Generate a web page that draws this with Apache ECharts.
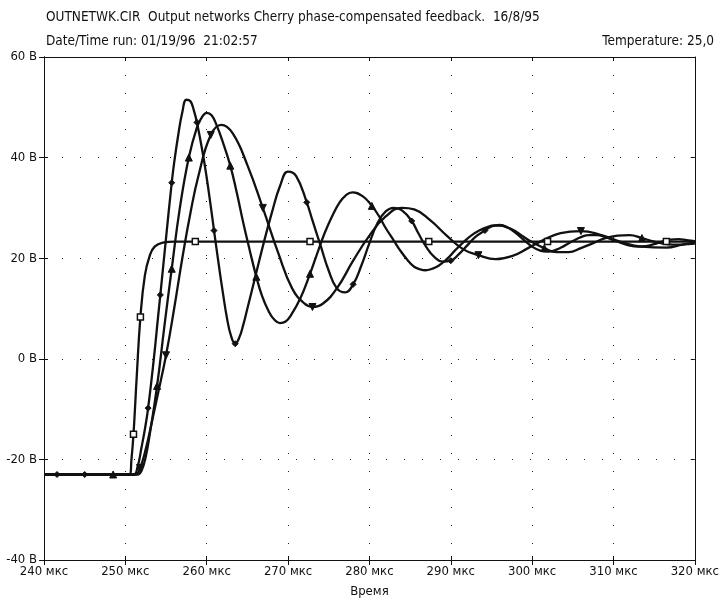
<!DOCTYPE html>
<html><head><meta charset="utf-8">
<script src="https://cdn.jsdelivr.net/npm/echarts/dist/echarts.min.js"></script>
</head><body style="margin:0;background:#fff">
<div id="c" style="width:722px;height:603px"></div>
<script>
// ---- data ----
const xTicks = [240, 250, 260, 270, 280, 290, 300, 310, 320];
const yTicks = [-40, -20, 0, 20, 40, 60];

// square-marker trace
const tS = [240, 250.5, 250.75, 251.0, 251.4, 251.85, 252.4, 253.0, 253.6, 254.6, 256, 258.6, 272.7, 287.3, 301.9, 316.5, 320];
const vS = [-23, -23, -20, -15, -3.5, 8.3, 16.6, 20.5, 22.3, 23.1, 23.3, 23.3, 23.3, 23.3, 23.3, 23.3, 23.3];
const mkS = [251.0, 251.85, 258.6, 272.7, 287.3, 301.9, 316.5];

// diamond-marker trace
const tA = [240, 241.6, 245, 248.5, 251, 251.5, 252, 252.4, 252.8, 253.5, 254, 254.3, 255, 255.7, 256, 256.5, 257, 257.5, 258, 258.4, 258.8, 259.5, 260, 260.5, 260.9, 261.5, 262, 262.5, 263, 263.5, 264, 264.5, 265, 266, 267, 268, 269, 270, 271, 272.3, 273, 274, 275, 276, 277, 278, 279, 280, 281, 282, 283, 284, 285.2, 286, 287, 288, 289, 290, 291, 292, 293, 294.2, 295, 296, 297, 298, 299, 300, 301, 302, 303, 304, 305, 306, 307, 308, 309, 310, 311, 312, 313, 314, 315, 316, 317, 318, 319, 320];
const vA = [-23, -23, -23, -23, -23, -21.5, -17.5, -14, -9.8, 0, 8, 12.7, 24, 35, 39, 44.5, 49, 51.5, 51.2, 49.5, 47, 41, 36, 30.3, 25.5, 18.5, 13, 8, 4.5, 3.0, 4.2, 6.8, 10, 16.5, 23, 29, 34.3, 37.2, 36.3, 31.1, 27.5, 22.5, 17.5, 14, 13.2, 14.8, 18.5, 23, 27, 29.3, 30, 29.5, 27.4, 25, 22.2, 20.2, 19.3, 19.5, 20.8, 22.5, 24.2, 25.5, 26.3, 26.6, 26.1, 25, 23.6, 22.3, 21.5, 21.3, 21.7, 22.5, 23.4, 24.2, 24.6, 24.6, 24.2, 23.6, 23, 22.5, 22.3, 22.4, 22.8, 23.3, 23.7, 23.8, 23.6, 23.4];
const mkA = [241.6, 245, 252.8, 254.3, 255.7, 258.8, 260.9, 263.5, 272.3, 278, 285.2, 290, 294.2];

// triangle-up trace
const tB = [240, 248.5, 251.5, 252.0, 252.5, 253.0, 253.9, 254.8, 255.7, 256.7, 257.8, 258.8, 259.4, 260.0, 260.6, 261.2, 262.0, 262.9, 263.7, 264.5, 265.3, 266.1, 266.8, 267.6, 268.3, 269.0, 269.7, 270.3, 271.5, 272.7, 273.6, 274.5, 275.4, 276.3, 277.1, 277.9, 279.2, 280.3, 281.2, 282.0, 283.0, 283.8, 284.7, 285.5, 286.2, 286.9, 287.7, 288.5, 289.5, 290.5, 291.5, 292.5, 293.5, 294.5, 295.3, 296.0, 297.0, 298.0, 299.0, 300.0, 301.5, 303.0, 304.5, 306.0, 307.5, 309.0, 310.5, 312.0, 313.5, 315.0, 316.5, 318.0, 319.0, 320];
const vB = [-23, -23, -23, -22.2, -19.5, -15, -5.4, 6.5, 17.9, 30, 40, 46, 48, 48.9, 48.4, 46.5, 43, 38.4, 33, 27, 21.5, 16.3, 12.5, 9.5, 7.8, 7.1, 7.4, 8.5, 12, 16.9, 21, 25, 28.3, 31, 32.5, 33.1, 32.3, 30.4, 28.3, 26, 23.5, 21.5, 19.6, 18.3, 17.8, 17.6, 17.9, 18.5, 19.8, 21.5, 23.1, 24.5, 25.5, 26.2, 26.5, 26.5, 26.1, 25.3, 24.2, 23.2, 22, 21.2, 21.2, 22, 23, 24, 24.5, 24.6, 24, 23.3, 22.8, 22.7, 22.8, 22.9];
const mkB = [248.5, 253.9, 255.7, 257.8, 262.9, 266.1, 272.7, 280.3, 301.5, 313.5];

// triangle-down trace
const tC = [240, 251.2, 251.8, 252.5, 253.2, 254.0, 255.0, 256.0, 257.0, 258.0, 259.0, 260.5, 261.8, 263.2, 265.0, 266.9, 268.8, 270.5, 272.0, 273.0, 274.3, 276.0, 278.0, 280.0, 282.0, 284.0, 285.5, 287.5, 289.5, 291.5, 293.4, 295.5, 297.5, 299.5, 301.5, 303.5, 306.0, 308.5, 311.0, 313.5, 316.5, 318.5, 320];
const vC = [-23, -23, -21.7, -18, -13, -7, 0.7, 10, 20, 29, 36.5, 44.5, 46.5, 44.8, 38.5, 30, 21, 14, 11, 10.3, 11, 14, 19.5, 24.5, 28.3, 30, 29.7, 27.5, 24.5, 21.8, 20.6, 19.8, 20.4, 22, 23.7, 25, 25.4, 24.6, 23.2, 22.3, 22.1, 22.7, 23.1];
const mkC = [251.8, 255.0, 260.5, 266.9, 273.0, 293.4, 306.0];

const titleText = 'OUTNETWK.CIR  Output networks Cherry phase-compensated feedback.  16/8/95';
const runText = 'Date/Time run: 01/19/96  21:02:57';
const tempText = 'Temperature: 25,0';
const xName = 'Время';

// ---- build ----
const F = '"Liberation Sans Narrow", "DejaVu Sans Condensed", "Liberation Sans", sans-serif';
function build(ts, vs, mk, sym) {
  return ts.map((t, i) => ({ value: [t, vs[i]], symbol: mk.indexOf(t) >= 0 ? sym : 'none' }));
}
function ser(ts, vs, mk, sym, opts) {
  return Object.assign({
    type: 'line', data: build(ts, vs, mk, sym), smooth: 0.45,
    showSymbol: true, symbolSize: 7,
    lineStyle: { color: '#111', width: 2.3 },
    itemStyle: { color: '#111', borderColor: '#111', borderWidth: 1 },
    z: 3
  }, opts || {});
}
const chart = echarts.init(document.getElementById('c'), null, { renderer: 'canvas' });
const dotted = { color: '#222', width: 1, type: [1, 17] };
const tStyle = { fontSize: 13.5, fontWeight: 'normal', color: '#111', fontFamily: F };
const axLine = { show: true, onZero: false, lineStyle: { color: '#111', width: 1 } };
const xRange = { type: 'value', min: xTicks[0], max: xTicks[xTicks.length - 1], interval: xTicks[1] - xTicks[0] };
const yRange = { type: 'value', min: yTicks[0], max: yTicks[yTicks.length - 1], interval: yTicks[1] - yTicks[0] };
chart.setOption({
  animation: false,
  backgroundColor: '#fff',
  textStyle: { fontFamily: F },
  title: [
    { text: titleText, left: 46, top: 10, padding: 0, textStyle: tStyle },
    { text: runText, left: 46, top: 34, padding: 0, textStyle: tStyle },
    { text: tempText, right: 8, top: 34, padding: 0, textStyle: tStyle }
  ],
  grid: { left: 44, right: 25, top: 57, bottom: 40, containLabel: false },
  xAxis: [
    Object.assign({ position: 'bottom', axisLine: axLine,
      axisTick: { show: true, inside: false, length: 5, lineStyle: { color: '#111' } },
      axisLabel: { formatter: '{value} мкс', color: '#111', fontSize: 13, fontFamily: F, margin: 5 },
      splitLine: { show: true, lineStyle: dotted },
      name: xName, nameLocation: 'middle', nameGap: 25, nameTextStyle: { color: '#111', fontSize: 13, fontFamily: F } }, xRange),
    Object.assign({ position: 'top', axisLine: axLine,
      axisTick: { show: true, inside: true, length: 4, lineStyle: { color: '#111' } },
      axisLabel: { show: false }, splitLine: { show: false } }, xRange),
    Object.assign({ position: 'bottom', offset: 0, axisLine: axLine,
      axisTick: { show: true, inside: true, length: 4, lineStyle: { color: '#111' } },
      axisLabel: { show: false }, splitLine: { show: false } }, xRange)
  ],
  yAxis: [
    Object.assign({ position: 'left', axisLine: axLine,
      axisTick: { show: true, inside: false, length: 5, lineStyle: { color: '#111' } },
      axisLabel: { formatter: '{value} В', color: '#111', fontSize: 13, fontFamily: F, margin: 7 },
      splitLine: { show: true, lineStyle: dotted } }, yRange),
    Object.assign({ position: 'right', axisLine: axLine,
      axisTick: { show: true, inside: true, length: 4, lineStyle: { color: '#111' } },
      axisLabel: { show: false }, splitLine: { show: false } }, yRange),
    Object.assign({ position: 'left', offset: 0, axisLine: axLine,
      axisTick: { show: true, inside: true, length: 4, lineStyle: { color: '#111' } },
      axisLabel: { show: false }, splitLine: { show: false } }, yRange)
  ],
  series: [
    ser(tS, vS, mkS, 'rect', { symbolSize: 6, itemStyle: { color: '#fff', borderColor: '#111', borderWidth: 1.5 }, z: 4 }),
    ser(tA, vA, mkA, 'diamond', { symbolSize: 6 }),
    ser(tB, vB, mkB, 'triangle', { symbolSize: 7 }),
    ser(tC, vC, mkC, 'triangle', { symbolSize: 7, symbolRotate: 180 })
  ]
});
</script>
</body></html>
